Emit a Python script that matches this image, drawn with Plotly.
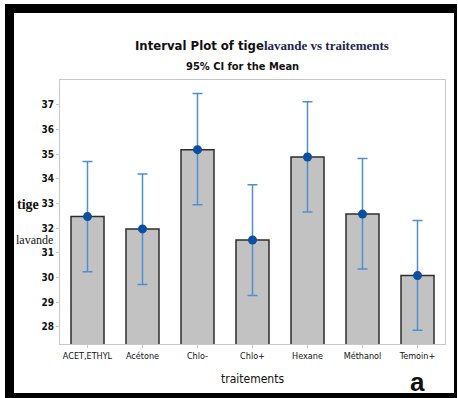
import plotly.graph_objects as go

categories = ["ACET,ETHYL", "Acétone", "Chlo-", "Chlo+", "Hexane", "Méthanol", "Temoin+"]
means = [32.47, 31.97, 35.18, 31.52, 34.88, 32.57, 30.08]
ci_upper = [34.70, 34.19, 37.45, 33.76, 37.12, 34.82, 32.31]
ci_lower = [30.24, 29.72, 32.95, 29.27, 32.65, 30.35, 27.87]
y_ticks = [28, 29, 30, 31, 32, 33, 34, 35, 36, 37]

W, H = 458, 398
L, R, T, B = 60, 13, 80, 54
PW, PH = W - L - R, H - T - B

def px(x):
    return (x - L) / PW

def py(y):
    return (H - B - y) / PH

COND = "Liberation Sans Narrow, DejaVu Sans Condensed, Arial Narrow, sans-serif"
SERIF = "Liberation Serif, DejaVu Serif, serif"

fig = go.Figure()
fig.add_trace(go.Bar(
    x=categories, y=means, width=0.6,
    marker=dict(color="#c2c2c2", line=dict(color="#2e2e2e", width=1.5)),
    hoverinfo="skip",
))
fig.add_trace(go.Scatter(
    x=categories, y=means, mode="markers",
    marker=dict(color="#0b4f9e", size=9),
    error_y=dict(type="data", symmetric=False,
                 array=[u - m for u, m in zip(ci_upper, means)],
                 arrayminus=[m - l for m, l in zip(means, ci_lower)],
                 color="#4f8fd0", thickness=1.5, width=5),
))

shapes = [
    dict(type="rect", xref="paper", yref="paper", x0=px(5), x1=px(14), y0=py(4), y1=py(398),
         fillcolor="black", line=dict(width=0)),
    dict(type="rect", xref="paper", yref="paper", x0=px(5), x1=px(457), y0=py(4), y1=py(13),
         fillcolor="black", line=dict(width=0)),
    dict(type="rect", xref="paper", yref="paper", x0=px(454), x1=px(457), y0=py(4), y1=py(398),
         fillcolor="black", line=dict(width=0)),
    dict(type="rect", xref="paper", yref="paper", x0=px(5), x1=px(457), y0=py(393), y1=py(398),
         fillcolor="black", line=dict(width=0)),
]

annotations = [
    dict(x=px(262), y=py(46), xref="paper", yref="paper", showarrow=False,
         xanchor="center", yanchor="middle",
         text="<b>Interval Plot of tige</b><span style='font-family:Liberation Serif, serif; color:#1c2450'><b>lavande vs traitements</b></span>",
         font=dict(family=COND, size=13, color="#111111")),
    dict(x=px(242), y=py(66), xref="paper", yref="paper", showarrow=False,
         xanchor="center", yanchor="middle", text="<b>95% CI for the Mean</b>",
         font=dict(family=COND, size=11, color="#111111")),
    dict(x=px(253), y=py(379), xref="paper", yref="paper", showarrow=False,
         xanchor="center", yanchor="middle", text="traitements",
         font=dict(family=COND, size=12, color="#111111")),
    dict(x=px(28), y=py(204), xref="paper", yref="paper", showarrow=False,
         xanchor="center", yanchor="middle", text="<b>tige</b>",
         font=dict(family=SERIF, size=14, color="#111111")),
    dict(x=px(34), y=py(240), xref="paper", yref="paper", showarrow=False,
         xanchor="center", yanchor="middle", text="lavande",
         font=dict(family=SERIF, size=12, color="#111111")),
    dict(x=px(417), y=py(382), xref="paper", yref="paper", showarrow=False,
         xanchor="center", yanchor="middle", text="<b>a</b>",
         font=dict(family="Liberation Sans, Arial, sans-serif", size=26, color="#111111")),
]

fig.update_layout(
    width=W, height=H,
    margin=dict(l=L, r=R, t=T, b=B, pad=0),
    paper_bgcolor="white", plot_bgcolor="white",
    showlegend=False,
    shapes=shapes, annotations=annotations,
    xaxis=dict(range=[-0.5, 6.5], showgrid=False, showline=True, mirror=True,
               linecolor="#c8c8c8", linewidth=1, ticks="outside", ticklen=3,
               tickcolor="#c8c8c8",
               tickfont=dict(family=COND, size=9, color="#111111")),
    yaxis=dict(range=[27.31, 38.0], tickvals=y_ticks, showgrid=False, zeroline=False,
               showline=True, mirror=True, linecolor="#c8c8c8", linewidth=1,
               ticks="outside", ticklen=3, tickcolor="#c8c8c8",
               tickfont=dict(family=COND, size=10, color="#111111", weight="bold")),
)

fig.write_html("out.html", config={"displayModeBar": False},
               post_script="document.body.style.margin='0';document.body.style.overflow='hidden';")
